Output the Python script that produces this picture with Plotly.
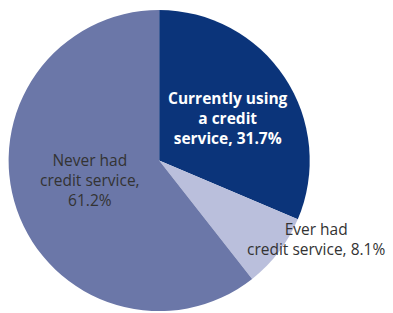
import plotly.graph_objects as go

labels = ["Currently using a credit service", "Ever had credit service", "Never had credit service"]
values = [31.7, 8.1, 61.2]
colors = ["#0B347A", "#BABFDC", "#6B77A8"]

fig = go.Figure(go.Pie(
    labels=labels, values=values, sort=False, direction="clockwise", rotation=0,
    marker=dict(colors=colors, line=dict(width=0)),
    textinfo="none", hoverinfo="label+percent",
    domain=dict(x=[0.02, 0.79], y=[0.006, 0.968]),
    showlegend=False,
))

txt = [
    f"Currently using<br>a credit<br>service, {values[0]}%",
    f"Ever had<br>credit service, {values[1]}%",
    f"Never had<br>credit service,<br>{values[2]}%",
]
fam = "Open Sans"
fs = 15.5
common = dict(xref="paper", yref="paper", showarrow=False, align="center",
              xanchor="center", yanchor="middle")
fig.add_annotation(x=228/393, y=1-118/313, text=f"<b>{txt[0]}</b>",
                   font=dict(family=fam, size=fs, color="white"), **common)
fig.add_annotation(x=316/393, y=1-239/313, text=txt[1],
                   font=dict(family=fam, size=fs, color="#333333"), **common)
fig.add_annotation(x=90/393, y=1-180/313, text=txt[2],
                   font=dict(family=fam, size=fs, color="#333333"), **common)

fig.update_layout(width=393, height=313, margin=dict(l=0, r=0, t=0, b=0),
                  paper_bgcolor="white", plot_bgcolor="white")
fig.write_html("out.html", config=dict(displayModeBar=False),
               post_script="document.body.style.margin='0';document.body.style.overflow='hidden';")
